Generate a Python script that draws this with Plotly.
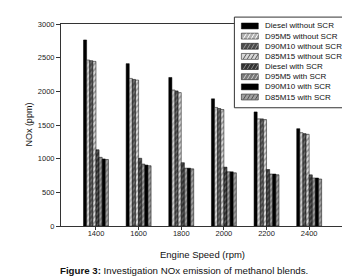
import plotly.graph_objects as go

speeds = [1400, 1600, 1800, 2000, 2200, 2400]
series_names = ["Diesel without SCR", "D95M5 without SCR", "D90M10 without SCR", "D85M15 without SCR",
                "Diesel with SCR", "D95M5 with SCR", "D90M10 with SCR", "D85M15 with SCR"]
diesel_wo = [2763, 2411, 2206, 1889, 1694, 1445]
d95_wo = [2465, 2192, 2020, 1761, 1591, 1386]
d90_wo = [2455, 2177, 2006, 1745, 1591, 1372]
d85_wo = [2445, 2167, 1981, 1730, 1581, 1362]
diesel_w = [1132, 1006, 940, 874, 839, 760]
d95_w = [1020, 920, 859, 805, 772, 713]
d90_w = [996, 905, 859, 805, 772, 713]
d85_w = [988, 895, 849, 790, 761, 698]
y_ticks = [0, 500, 1000, 1500, 2000, 2500, 3000]

values = [diesel_wo, d95_wo, d90_wo, d85_wo, diesel_w, d95_w, d90_w, d85_w]
# (bgcolor, fgcolor, shape)
styles = [("#000000", "#000000", ""),
          ("#b0b0b0", "#ffffff", "/"),
          ("#4a4a4a", "#9a9a9a", "/"),
          ("#d8d8d8", "#555555", "/"),
          ("#333333", "#888888", "/"),
          ("#7a7a7a", "#cccccc", "/"),
          ("#000000", "#000000", ""),
          ("#a0a0a0", "#505050", "/")]

fig = go.Figure()
for name, vals, (bg, fg, shp) in zip(series_names, values, styles):
    fig.add_trace(go.Bar(
        x=speeds, y=vals, name=name, showlegend=False,
        marker=dict(color=bg, line=dict(color="#000000", width=0.5),
                    pattern=dict(shape=shp, fgcolor=fg, bgcolor=bg, size=4, solidity=0.4)),
    ))

# pixel -> paper helpers (plot area: x 53..338, y 13..218)
L, R, T, B = 53, 338, 13, 218
def px(x):
    return (x - L) / (R - L)
def py(y):
    return (B - y) / (B - T)

shapes = []
annotations = []
# legend box
shapes.append(dict(type="rect", xref="paper", yref="paper", x0=px(227), x1=px(337), y0=py(98), y1=py(6),
                   fillcolor="white", line=dict(color="#333333", width=1), layer="above"))
for i, (name, (bg, fg, shp)) in enumerate(zip(series_names, styles)):
    yc = 15 + i * 10.3
    shapes.append(dict(type="rect", xref="paper", yref="paper", x0=px(234), x1=px(251), y0=py(yc + 3), y1=py(yc - 3),
                       fillcolor=bg, line=dict(color="#000000", width=0.5), layer="above"))
    if shp:
        for k in range(4):
            xs = 236 + k * 4
            shapes.append(dict(type="line", xref="paper", yref="paper", x0=px(xs), x1=px(xs + 3),
                               y0=py(yc + 2.5), y1=py(yc - 2.5), line=dict(color=fg, width=1), layer="above"))
    annotations.append(dict(xref="paper", yref="paper", x=px(256), y=py(yc), text=name, showarrow=False,
                            xanchor="left", yanchor="middle", font=dict(size=8, color="#111111")))

annotations.append(dict(xref="paper", yref="paper", x=px(195), y=py(247), text="Engine Speed (rpm)",
                        showarrow=False, xanchor="center", yanchor="middle", font=dict(size=9.5, color="#111111")))
annotations.append(dict(xref="paper", yref="paper", x=px(20), y=py(115), text="NOx (ppm)", textangle=-90,
                        showarrow=False, xanchor="center", yanchor="middle", font=dict(size=9, color="#111111")))
annotations.append(dict(xref="paper", yref="paper", x=px(176), y=py(263),
                        text="<b>Figure 3:</b> Investigation NOx emission of methanol blends.",
                        showarrow=False, xanchor="center", yanchor="middle", font=dict(size=9.7, color="#111111")))

fig.update_layout(
    width=350, height=276,
    margin=dict(l=L, r=350 - R, t=T, b=276 - B, pad=0),
    paper_bgcolor="white", plot_bgcolor="white",
    barmode="group", bargap=0.415, bargroupgap=0,
    font=dict(family="Liberation Sans, Arial, sans-serif", size=7.5, color="#222222"),
    shapes=shapes, annotations=annotations,
    xaxis=dict(range=[1236, 2568], tickvals=speeds, ticktext=[str(s) for s in speeds],
               showgrid=False, zeroline=False, showline=True, linecolor="#333333", linewidth=1,
               mirror=True, ticks="outside", ticklen=3, tickcolor="#333333", tickfont=dict(size=7.5),
               ticklabelstandoff=-3),
    yaxis=dict(range=[0, 3000], tickvals=y_ticks, showgrid=False, zeroline=False, showline=True,
               linecolor="#333333", linewidth=1, mirror=True, ticks="outside", ticklen=4,
               tickcolor="#333333", tickfont=dict(size=7.5)),
)

fig.write_html("out.html")
